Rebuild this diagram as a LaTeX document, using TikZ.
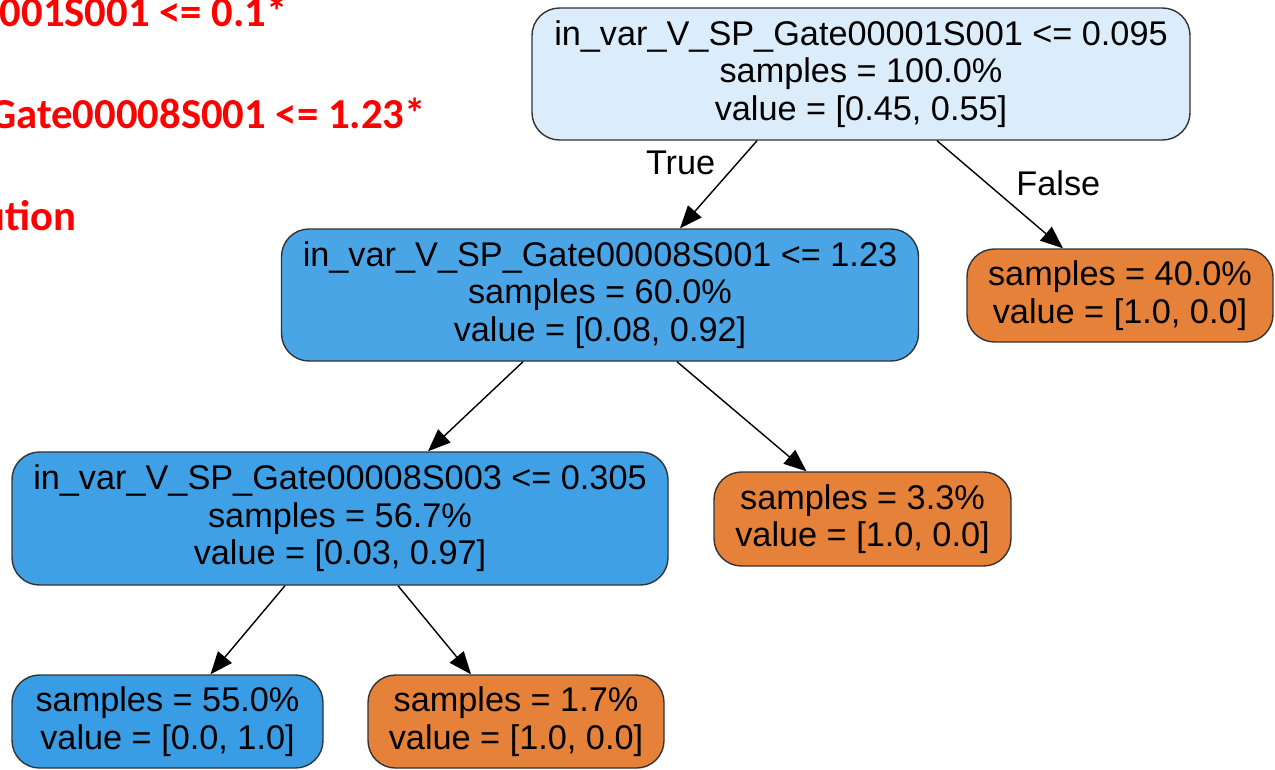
\documentclass[tikz,border=0pt]{standalone}
\usepackage{fontspec}
\setmainfont{Liberation Sans}
\newfontfamily\notefont{Carlito}
\usetikzlibrary{arrows.meta}

\definecolor{paleblue}{HTML}{DBEDFA}
\definecolor{midblue}{HTML}{4AA5E7}
\definecolor{deepblue}{HTML}{3FA0E6}
\definecolor{leafblue}{HTML}{399DE5}
\definecolor{leaforange}{HTML}{E58139}

\begin{document}
\begin{tikzpicture}
	\useasboundingbox (0,0) rectangle (25.5,-15.38);
	% red notes on the left, cut off at the page edge
	\begin{scope}[every node/.style={anchor=base east, inner sep=0pt, text=red, font=\notefont\bfseries\fontsize{24.3}{28}\selectfont}]
		\node (note one) at (5.76,-0.52) {001S001 <= 0.1*};
		\node (note two) at (8.52,-2.56) {Gate00008S001 <= 1.23*};
		\node (note three) at (1.54,-4.6) {ution};
	\end{scope}
	% tree nodes
	\begin{scope}[every node/.style={rectangle, draw=black!80, line width=0.8pt, rounded corners=0.55cm, align=center, font=\fontsize{19.5}{21.3}\selectfont}]
		\node[fill=paleblue, minimum width=13.16cm, minimum height=2.64cm] (root) at (17.22,-1.48) {in\_var\_V\_SP\_Gate00001S001 <= 0.095\\samples = 100.0\%\\value = [0.45, 0.55]};
		\node[fill=midblue, minimum width=12.74cm, minimum height=2.64cm] (split left) at (12.0,-5.9) {in\_var\_V\_SP\_Gate00008S001 <= 1.23\\samples = 60.0\%\\value = [0.08, 0.92]};
			\node[fill=leaforange, minimum width=6.12cm, minimum height=1.86cm] (leaf false) at (22.4,-5.91) {samples = 40.0\%\\value = [1.0, 0.0]};
		\node[fill=deepblue, minimum width=13.12cm, minimum height=2.66cm] (split low) at (6.8,-10.37) {in\_var\_V\_SP\_Gate00008S003 <= 0.305\\samples = 56.7\%\\value = [0.03, 0.97]};
			\node[fill=leaforange, minimum width=5.94cm, minimum height=1.88cm] (leaf mid) at (17.25,-10.38) {samples = 3.3\%\\value = [1.0, 0.0]};
			\node[fill=leafblue, minimum width=6.22cm, minimum height=1.86cm] (leaf pure) at (3.35,-14.43) {samples = 55.0\%\\value = [0.0, 1.0]};
			\node[fill=leaforange, minimum width=5.92cm, minimum height=1.86cm] (leaf small) at (10.32,-14.43) {samples = 1.7\%\\value = [1.0, 0.0]};
	\end{scope}
	% branches
	\begin{scope}[>={Triangle[length=0.45cm,width=0.36cm]}, line width=0.8pt, every node/.style={font=\fontsize{19.5}{21.3}\selectfont}]
	\path [->] ([xshift=-2.08cm]root.south) edge node[pos=0.25, left=0.32cm] {True} ([xshift=1.6cm]split left.north);
	\path [->] ([xshift=1.52cm]root.south) edge node[pos=0.4, right=0.45cm] {False} ([xshift=-1.14cm]leaf false.north);
	
	\path [->] ([xshift=-1.54cm]split left.south) edge ([xshift=1.76cm]split low.north);
	\path [->] ([xshift=1.54cm]split left.south) edge ([xshift=-1.12cm]leaf mid.north);
	
	\path [->] ([xshift=-1.1cm]split low.south) edge ([xshift=0.86cm]leaf pure.north);
	\path [->] ([xshift=1.16cm]split low.south) edge ([xshift=-0.9cm]leaf small.north);
	\end{scope}
\end{tikzpicture}
\end{document}
